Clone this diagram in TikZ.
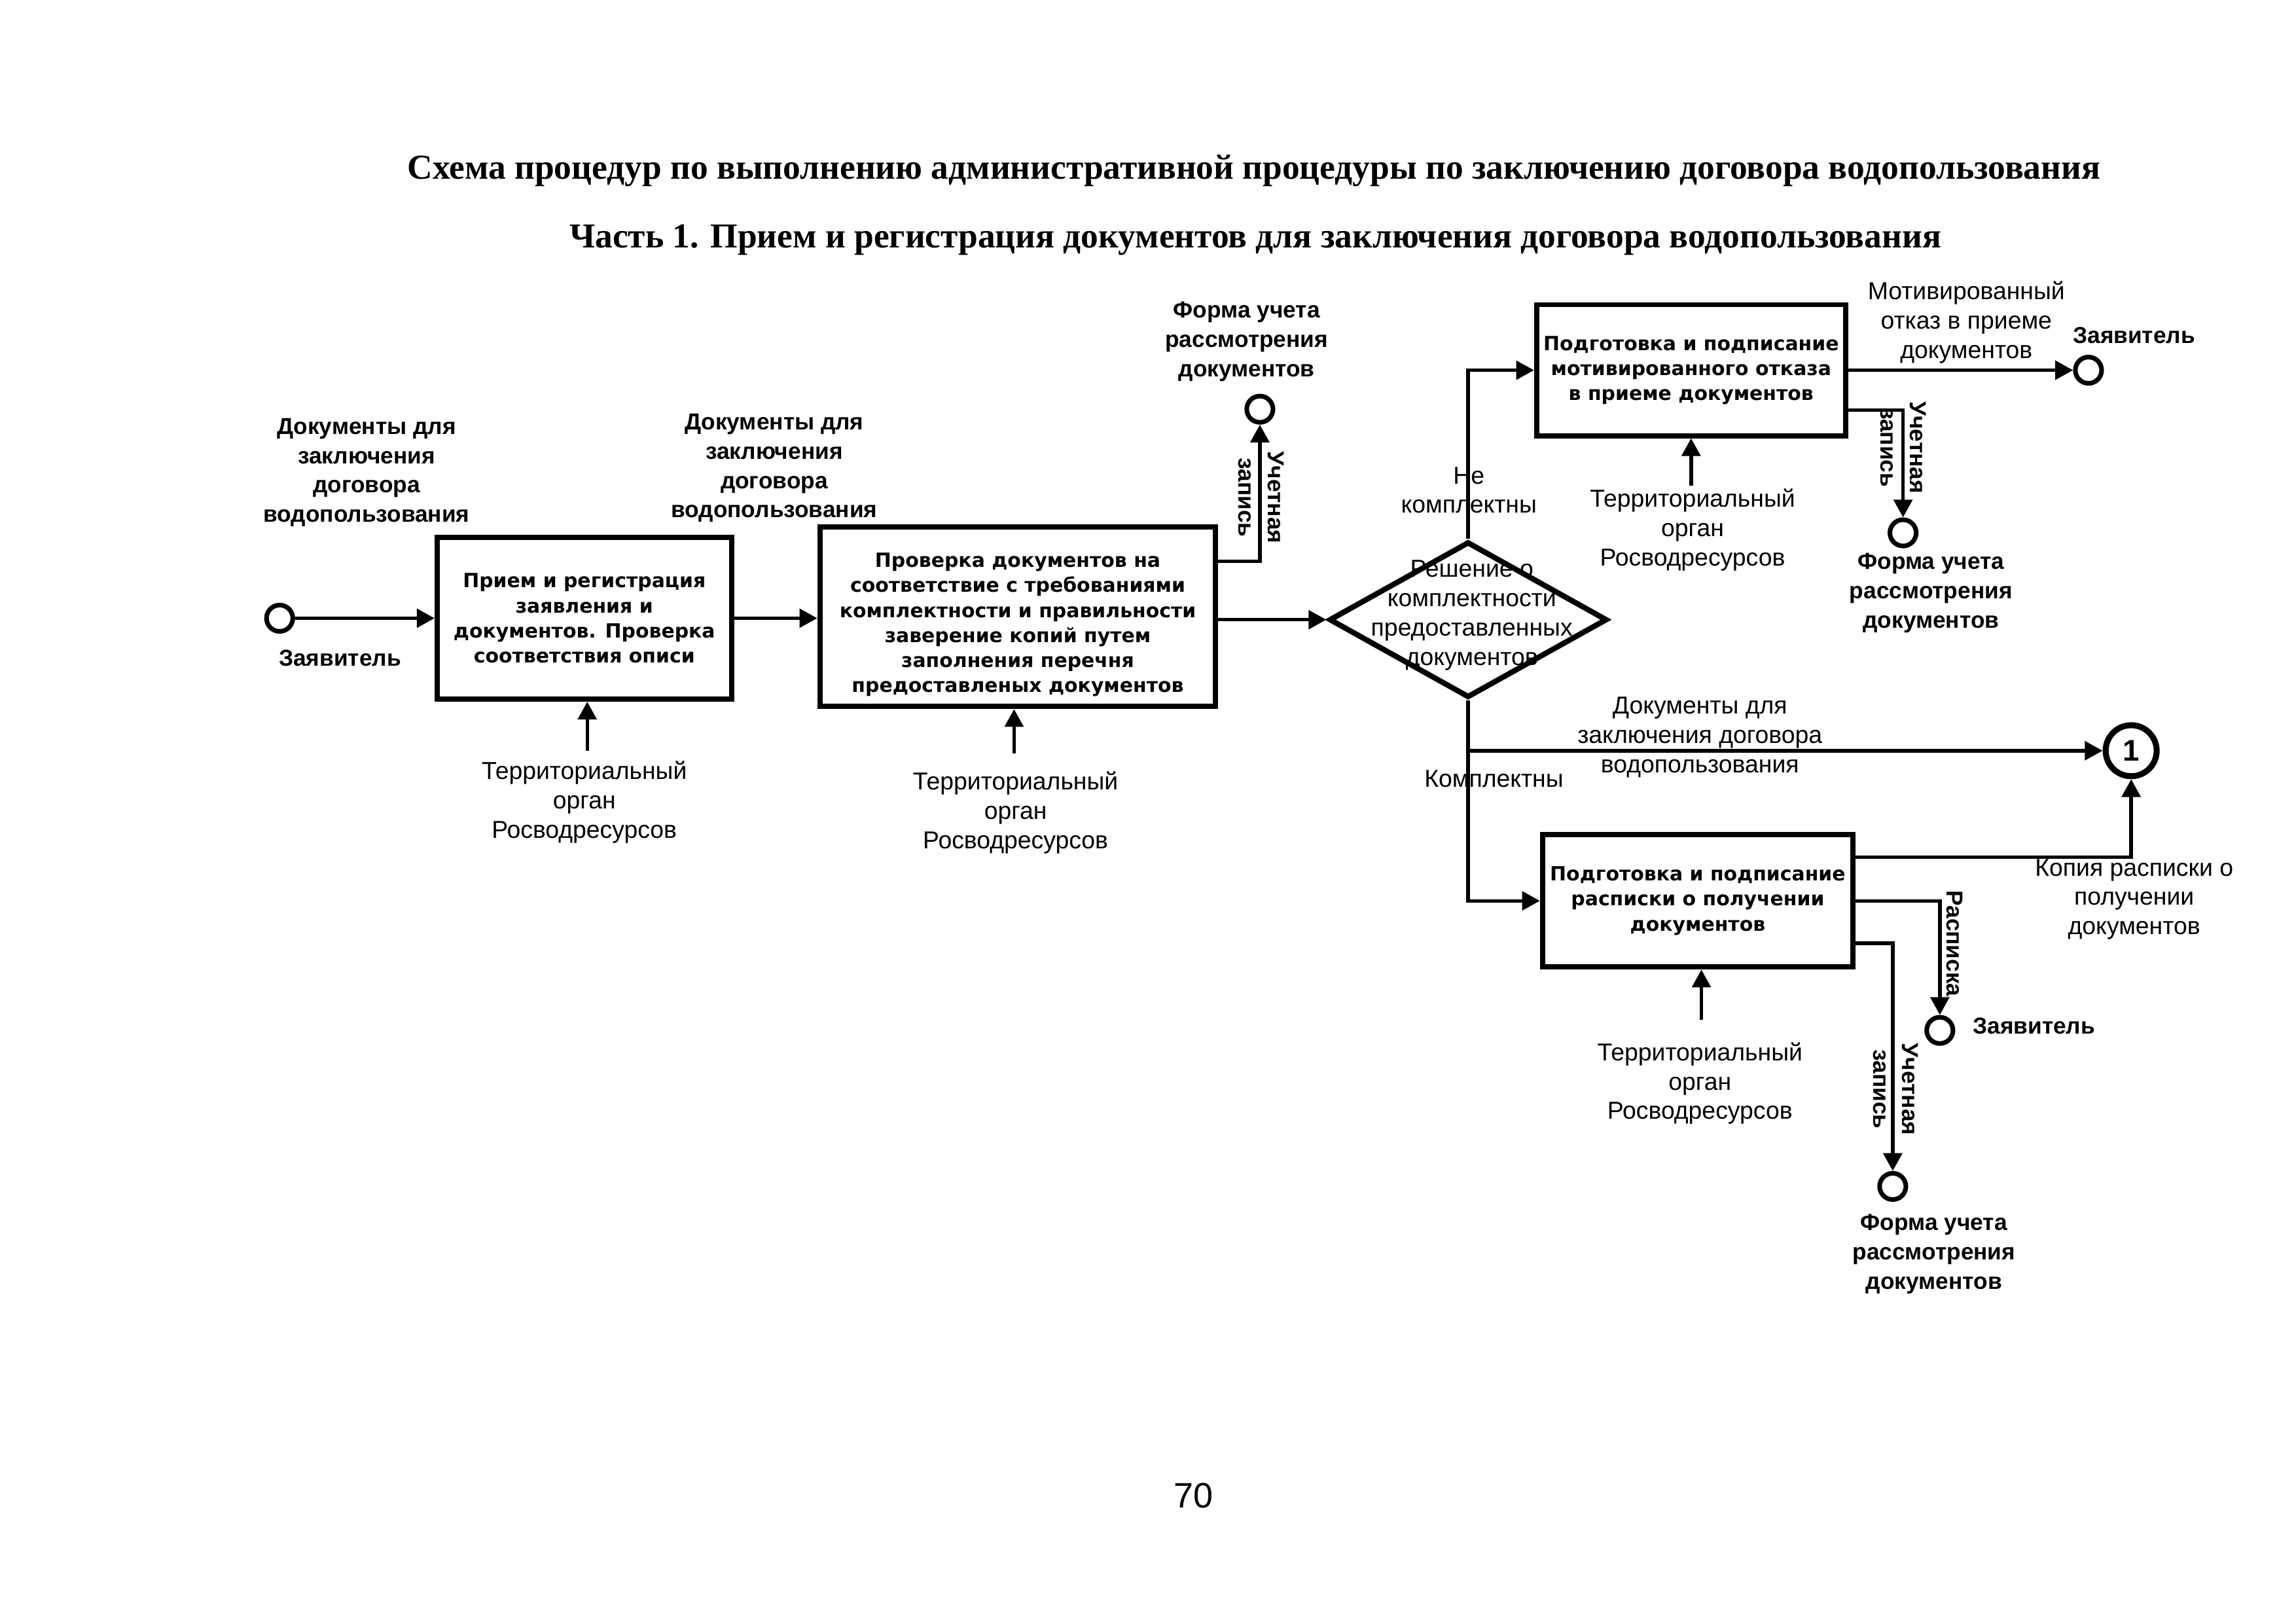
\documentclass[tikz,border=0pt]{standalone}
\usepackage{fontspec}
\setmainfont{Liberation Sans}
\newfontfamily\titlefont{Liberation Serif}
\newfontfamily\boxfont{DejaVu Sans}
\usetikzlibrary{arrows.meta,shapes.geometric,calc}
\begin{document}
\begin{tikzpicture}[x=0.019038cm,y=-0.019038cm,
 conn/.style={line width=1.3pt},
 arr/.style={conn,-{Triangle[length=2.3mm,width=2.4mm]}},
 boxtxt/.style={inner sep=0pt,align=center,font=\boxfont\bfseries\fontsize{7.2}{9.2}\selectfont},
 procbox/.style={boxtxt,draw,line width=1.9pt},
 lbl/.style={align=center,inner sep=0pt,font=\fontsize{9}{10.8}\selectfont},
 lblb/.style={align=center,inner sep=0pt,font=\bfseries\fontsize{8.5}{10.8}\selectfont},
 evt/.style={circle,draw,line width=1.7pt,minimum size=0.34cm,inner sep=0pt},
 ttl/.style={inner sep=0pt,font=\titlefont\bfseries\fontsize{12.88}{15}\selectfont},
]
\useasboundingbox (0,0) rectangle (1560,1103);
\fill[white] (0,0) rectangle (1560,1103);
% titles
\node[ttl] (title1) at (852,116) {Схема процедур по выполнению административной процедуры по заключению договора водопользования};
\node[ttl] (title2) at (853,163) {Часть 1. Прием и регистрация документов для заключения договора водопользования};
\node[inner sep=0pt,font=\fontsize{13}{15}\selectfont] (pnum) at (811,1016) {70};
% boxes
\node[procbox,minimum width=3.808cm,minimum height=2.094cm] (b1) at (397,420) {Прием и регистрация\\заявления и\\документов. Проверка\\соответствия описи};
\node[procbox,minimum width=5.121cm,minimum height=2.323cm] (b2) at (691.5,419) {};
\node[boxtxt] (b2t) at (691.5,424.5) {Проверка документов на\\соответствие с требованиями\\комплектности и правильности\\заверение копий путем\\заполнения перечня\\предоставленых документов};
\node[procbox,minimum width=3.998cm,minimum height=1.694cm] (b3) at (1149,251.5) {Подготовка и подписание\\мотивированного отказа\\в приеме документов};
\node[procbox,minimum width=4.017cm,minimum height=1.713cm] (b4) at (1153.5,612) {Подготовка и подписание\\расписки о получении\\документов};
\node[diamond,draw,line width=2pt,minimum width=3.598cm,minimum height=2.018cm,inner sep=0pt] (d) at (997.5,421) {};
\node[lbl] (dtext) at (1000,418) {Решение о\\комплектности\\предоставленных\\документов};
% events
\node[evt] (e0) at (190,420) {};
\node[evt] (e1) at (856,278) {};
\node[evt] (e2) at (1419,251.5) {};
\node[evt] (e3) at (1293,362) {};
\node[evt] (e5) at (1318,700) {};
\node[evt] (e6) at (1286,806) {};
\node[circle,draw,line width=2.2pt,minimum size=0.66cm,inner sep=0pt,font=\bfseries\fontsize{11}{11}\selectfont] (e4) at (1448,510) {1};
% connectors
\draw[arr] (e0) -- (b1.west);
\draw[arr] (b1.east) -- (b1.east -| b2.west);
\draw[arr] ($(b2.north east)+(0,25)$) -| (e1.south);
\draw[arr] (b2.east |- d.west) -- (d.west);
\draw[arr] (d.north) |- (b3.west);
\draw[arr] (b3.east) -- (e2.west);
\draw[arr] ($(b3.south east)+(0,-19)$) -| (e3.north);
\draw[arr] (d.south) |- (b4.west);
\draw[arr] (d.south |- e4.west) -- (e4.west);
\draw[arr] ($(b4.north east)+(0,17)$) -| (e4.south);
\draw[arr] (b4.east) -| (e5.north);
\draw[arr] ($(b4.south east)+(0,-18)$) -| (e6.north);
% resource inputs
\coordinate (s1) at (399,510);
\coordinate (s2) at (689,512);
\coordinate (s3) at (1149,330);
\coordinate (s4) at (1156,693);
\draw[arr] (s1) -- (s1 |- b1.south);
\draw[arr] (s2) -- (s2 |- b2.south);
\draw[arr] (s3) -- (s3 |- b3.south);
\draw[arr] (s4) -- (s4 |- b4.south);
% labels
\node[lblb] (l1) at (249,321) {Документы для\\заключения\\договора\\водопользования};
\node[lblb] (l2) at (526,318) {Документы для\\заключения\\договора\\водопользования};
\node[lblb] (z0) at (231,447) {Заявитель};
\node[lbl] (t1) at (397,545) {Территориальный\\орган\\Росводресурсов};
\node[lbl] (t2) at (690,552) {Территориальный\\орган\\Росводресурсов};
\node[lbl] (t3) at (1150,360) {Территориальный\\орган\\Росводресурсов};
\node[lbl] (t4) at (1155,736) {Территориальный\\орган\\Росводресурсов};
\node[lblb] (f1) at (847,232) {Форма учета\\рассмотрения\\документов};
\node[lblb] (f2) at (1312,403) {Форма учета\\рассмотрения\\документов};
\node[lblb] (f3) at (1314,852) {Форма учета\\рассмотрения\\документов};
\node[lbl] (nk) at (998,333) {Не\\комплектны};
\node[lbl] (mo) at (1336,219) {Мотивированный\\отказ в приеме\\документов};
\node[lblb] (z2) at (1450,228) {Заявитель};
\node[lbl] (dd) at (1155,501) {Документы для\\заключения договора\\водопользования};
\node[lbl] (kk) at (1015,529) {Комплектны};
\node[lbl] (kr) at (1450,611) {Копия расписки о\\получении\\документов};
\node[lblb] (z5) at (1382,697) {Заявитель};
\node[lblb,rotate=-90] (r1) at (857,338) {Учетная\\запись};
\node[lblb,rotate=-90] (r2) at (1293,304) {Учетная\\запись};
\node[lblb,rotate=-90] (r3) at (1288,740) {Учетная\\запись};
\node[lblb,rotate=-90] (r4) at (1328,641) {Расписка};
\end{tikzpicture}
\end{document}
